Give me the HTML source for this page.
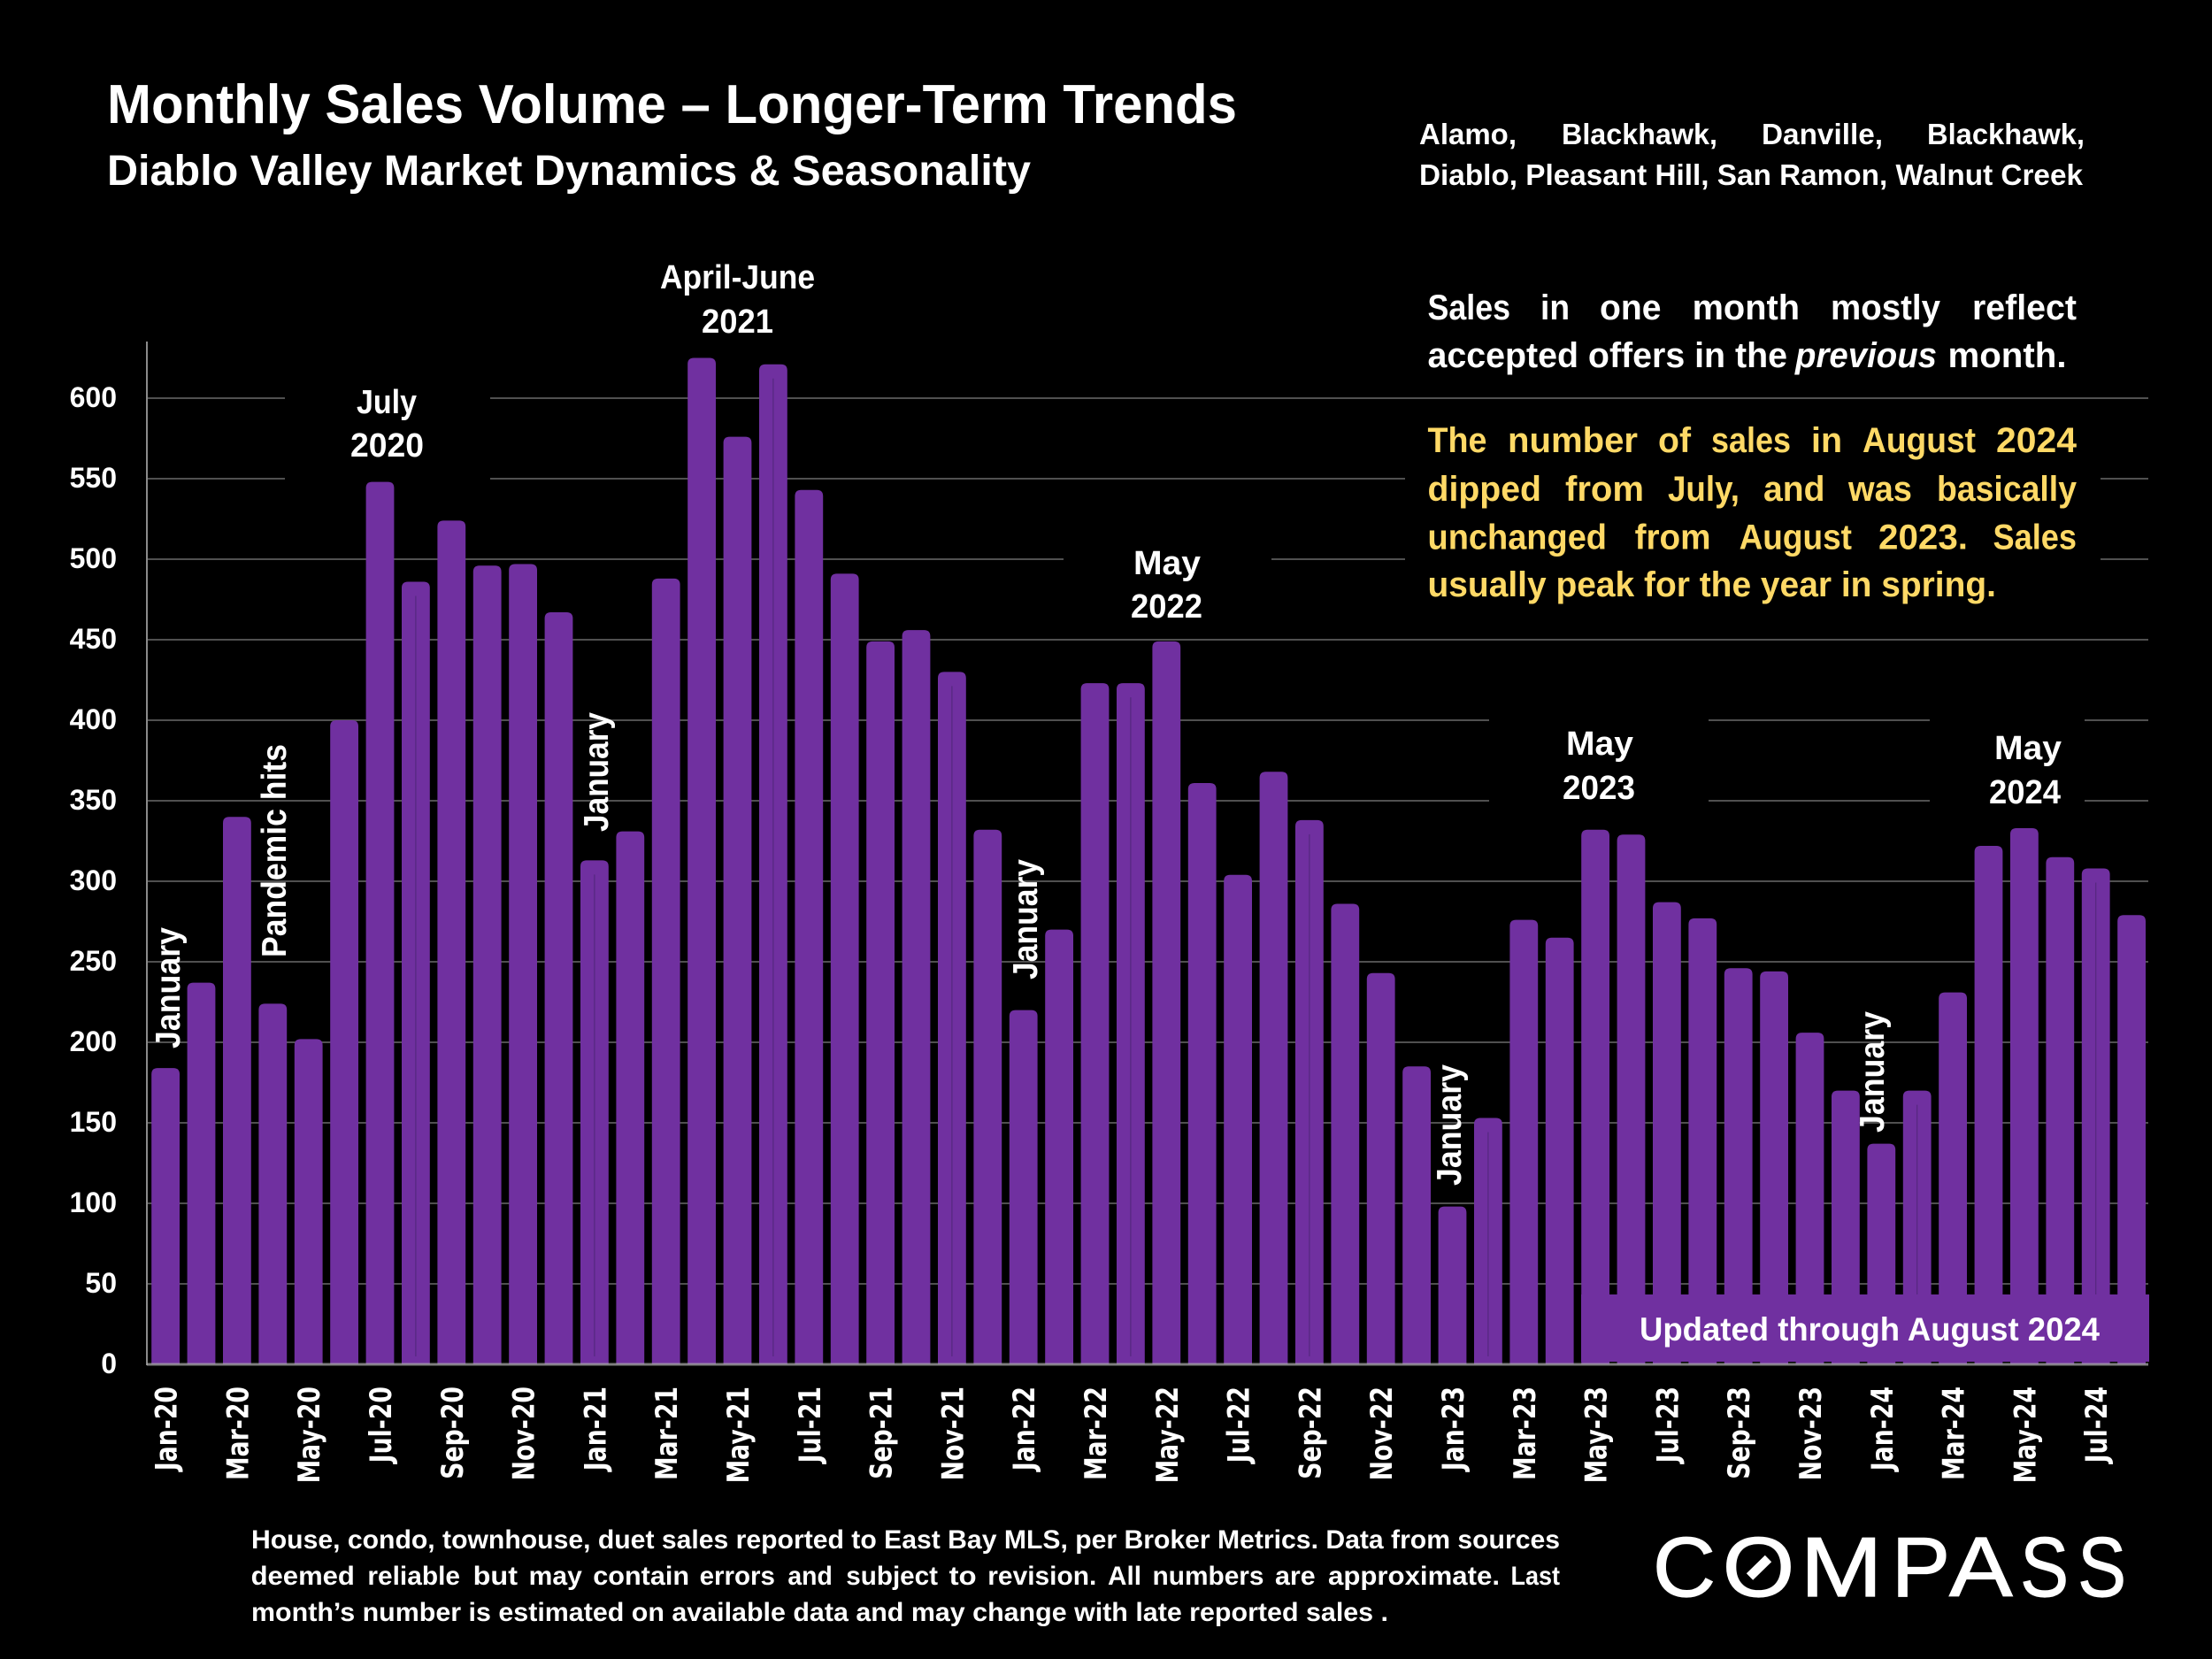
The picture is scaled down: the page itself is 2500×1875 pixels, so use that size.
<!DOCTYPE html>
<html lang="en">
<head>
<meta charset="utf-8">
<title>Monthly Sales Volume – Longer-Term Trends</title>
<style>
  html, body { margin: 0; padding: 0; background: #000; }
  svg { display: block; }
  text { font-family: "Liberation Sans", sans-serif; font-weight: 700; fill: #fff; }
  .gold { fill: #FFD966; }
  .ann { font-size: 38px; text-anchor: start; }
  .rot { font-size: 35.6px; }
  .tick-y { font-size: 32px; text-anchor: end; }
  .tick-x { font-family: "DejaVu Sans", sans-serif; font-size: 26.7px; text-anchor: end; }
  .foot { font-size: 30px; }
  .note { font-size: 40px; }
</style>
</head>
<body>
<svg id="chart" xmlns="http://www.w3.org/2000/svg" width="2500" height="1875" viewBox="0 0 2500 1875">
  <rect x="0" y="0" width="2500" height="1875" fill="#000"/>

  <text x="121" y="139" font-size="62" textLength="1277" lengthAdjust="spacingAndGlyphs">Monthly Sales Volume – Longer-Term Trends</text>
  <text x="121" y="209" font-size="48" textLength="1044" lengthAdjust="spacingAndGlyphs">Diablo Valley Market Dynamics &amp; Seasonality</text>

  <text y="163" font-size="33"><tspan x="1604" textLength="110" lengthAdjust="spacingAndGlyphs">Alamo,</tspan> <tspan x="1765" textLength="176" lengthAdjust="spacingAndGlyphs">Blackhawk,</tspan> <tspan x="1991" textLength="137" lengthAdjust="spacingAndGlyphs">Danville,</tspan> <tspan x="2178" textLength="178" lengthAdjust="spacingAndGlyphs">Blackhawk,</tspan></text>
  <text x="1604" y="209" font-size="33" textLength="750" lengthAdjust="spacingAndGlyphs">Diablo, Pleasant Hill, San Ramon, Walnut Creek</text>

  <g id="grid-layer"></g>

  <g fill="#000">
    <rect x="322" y="440" width="232" height="102"/>
    <rect x="1202" y="625" width="235" height="95"/>
    <rect x="1683" y="805" width="248" height="105"/>
    <rect x="2181" y="805" width="175" height="105"/>
    <rect x="1588" y="470" width="786" height="220"/>
  </g>

  <g id="bar-layer"></g>
  <g id="axis-layer"></g>

  <rect x="1787" y="1463" width="642" height="76" fill="#7030A0"/>
  <text x="1853" y="1515" font-size="37" textLength="520" lengthAdjust="spacingAndGlyphs">Updated through August 2024</text>

  <g>
    <text class="ann" x="403" y="467" textLength="68" lengthAdjust="spacingAndGlyphs">July</text>
    <text class="ann" x="396" y="516" textLength="83" lengthAdjust="spacingAndGlyphs">2020</text>
    <text class="ann" x="746" y="326" textLength="175" lengthAdjust="spacingAndGlyphs">April-June</text>
    <text class="ann" x="793" y="376" textLength="81" lengthAdjust="spacingAndGlyphs">2021</text>
    <text class="ann" x="1281" y="649" textLength="76" lengthAdjust="spacingAndGlyphs">May</text>
    <text class="ann" x="1278" y="698" textLength="81" lengthAdjust="spacingAndGlyphs">2022</text>
    <text class="ann" x="1770" y="853" textLength="76" lengthAdjust="spacingAndGlyphs">May</text>
    <text class="ann" x="1766" y="903" textLength="82" lengthAdjust="spacingAndGlyphs">2023</text>
    <text class="ann" x="2254" y="858" textLength="76" lengthAdjust="spacingAndGlyphs">May</text>
    <text class="ann" x="2248" y="908" textLength="81" lengthAdjust="spacingAndGlyphs">2024</text>
  </g>

  <g>
    <text class="rot" transform="translate(203 1185) rotate(-90) scale(1 1.1)" textLength="137" lengthAdjust="spacingAndGlyphs">January</text>
    <text class="rot" transform="translate(323 1082) rotate(-90) scale(1 1.1)" textLength="241" lengthAdjust="spacingAndGlyphs">Pandemic hits</text>
    <text class="rot" transform="translate(687 940) rotate(-90) scale(1 1.1)" textLength="135" lengthAdjust="spacingAndGlyphs">January</text>
    <text class="rot" transform="translate(1172 1107) rotate(-90) scale(1 1.1)" textLength="136" lengthAdjust="spacingAndGlyphs">January</text>
    <text class="rot" transform="translate(1651 1340) rotate(-90) scale(1 1.1)" textLength="137" lengthAdjust="spacingAndGlyphs">January</text>
    <text class="rot" transform="translate(2129 1280) rotate(-90) scale(1 1.1)" textLength="137" lengthAdjust="spacingAndGlyphs">January</text>
  </g>

  <g>
    <text class="note" y="361"><tspan x="1613.5" textLength="93.5" lengthAdjust="spacingAndGlyphs">Sales</tspan> <tspan x="1741" textLength="33" lengthAdjust="spacingAndGlyphs">in</tspan> <tspan x="1808" textLength="69.5" lengthAdjust="spacingAndGlyphs">one</tspan> <tspan x="1912.6" textLength="121.4" lengthAdjust="spacingAndGlyphs">month</tspan> <tspan x="2069" textLength="124" lengthAdjust="spacingAndGlyphs">mostly</tspan> <tspan x="2229" textLength="118" lengthAdjust="spacingAndGlyphs">reflect</tspan></text>
    <text class="note" y="415"><tspan x="1613.5" textLength="406.5" lengthAdjust="spacingAndGlyphs">accepted offers in the</tspan> <tspan x="2029" textLength="160" lengthAdjust="spacingAndGlyphs" font-style="italic">previous</tspan> <tspan x="2201.5" textLength="134" lengthAdjust="spacingAndGlyphs">month.</tspan></text>

    <text class="note gold" y="511"><tspan x="1613.5" textLength="67" lengthAdjust="spacingAndGlyphs">The</tspan> <tspan x="1704" textLength="147" lengthAdjust="spacingAndGlyphs">number</tspan> <tspan x="1874" textLength="37" lengthAdjust="spacingAndGlyphs">of</tspan> <tspan x="1934" textLength="90" lengthAdjust="spacingAndGlyphs">sales</tspan> <tspan x="2047" textLength="35" lengthAdjust="spacingAndGlyphs">in</tspan> <tspan x="2105" textLength="128" lengthAdjust="spacingAndGlyphs">August</tspan> <tspan x="2256" textLength="91" lengthAdjust="spacingAndGlyphs">2024</tspan></text>
    <text class="note gold" y="566"><tspan x="1613.5" textLength="128.5" lengthAdjust="spacingAndGlyphs">dipped</tspan> <tspan x="1769" textLength="89" lengthAdjust="spacingAndGlyphs">from</tspan> <tspan x="1885" textLength="81" lengthAdjust="spacingAndGlyphs">July,</tspan> <tspan x="1993" textLength="69.5" lengthAdjust="spacingAndGlyphs">and</tspan> <tspan x="2089" textLength="72" lengthAdjust="spacingAndGlyphs">was</tspan> <tspan x="2189" textLength="158" lengthAdjust="spacingAndGlyphs">basically</tspan></text>
    <text class="note gold" y="620.5"><tspan x="1613.5" textLength="202.5" lengthAdjust="spacingAndGlyphs">unchanged</tspan> <tspan x="1847.6" textLength="86" lengthAdjust="spacingAndGlyphs">from</tspan> <tspan x="1965.6" textLength="127.4" lengthAdjust="spacingAndGlyphs">August</tspan> <tspan x="2123" textLength="101" lengthAdjust="spacingAndGlyphs">2023.</tspan> <tspan x="2252.5" textLength="94.5" lengthAdjust="spacingAndGlyphs">Sales</tspan></text>
    <text class="note gold" x="1613.5" y="674" textLength="642.5" lengthAdjust="spacingAndGlyphs">usually peak for the year in spring.</text>
  </g>

  <g>
    <text class="foot" x="284" y="1750" textLength="1479" lengthAdjust="spacingAndGlyphs">House, condo, townhouse, duet sales reported to East Bay MLS, per Broker Metrics. Data from sources</text>
    <text class="foot" y="1791"><tspan x="283.6" textLength="117.3" lengthAdjust="spacingAndGlyphs">deemed</tspan> <tspan x="415.4" textLength="104.6" lengthAdjust="spacingAndGlyphs">reliable</tspan> <tspan x="534.6" textLength="50.4" lengthAdjust="spacingAndGlyphs">but</tspan> <tspan x="597.6" textLength="60.2" lengthAdjust="spacingAndGlyphs">may</tspan> <tspan x="670.3" textLength="108.7" lengthAdjust="spacingAndGlyphs">contain</tspan> <tspan x="790.6" textLength="85.3" lengthAdjust="spacingAndGlyphs">errors</tspan> <tspan x="890.4" textLength="50.4" lengthAdjust="spacingAndGlyphs">and</tspan> <tspan x="956.3" textLength="103.7" lengthAdjust="spacingAndGlyphs">subject</tspan> <tspan x="1072.6" textLength="31.1" lengthAdjust="spacingAndGlyphs">to</tspan> <tspan x="1116.3" textLength="123" lengthAdjust="spacingAndGlyphs">revision.</tspan> <tspan x="1252" textLength="38" lengthAdjust="spacingAndGlyphs">All</tspan> <tspan x="1302.5" textLength="126" lengthAdjust="spacingAndGlyphs">numbers</tspan> <tspan x="1441" textLength="45.6" lengthAdjust="spacingAndGlyphs">are</tspan> <tspan x="1501" textLength="194" lengthAdjust="spacingAndGlyphs">approximate.</tspan> <tspan x="1707.5" textLength="55.5" lengthAdjust="spacingAndGlyphs">Last</tspan></text>
    <text class="foot" x="284" y="1832" textLength="1285" lengthAdjust="spacingAndGlyphs">month’s number is estimated on available data and may change with late reported sales .</text>
  </g>

  <g>
    <text y="1804" font-size="96" stroke="#fff" stroke-width="1.2" style="font-weight:400"><tspan x="1868" textLength="71" lengthAdjust="spacingAndGlyphs">C</tspan><tspan x="1946.8" textLength="81.5" lengthAdjust="spacingAndGlyphs">O</tspan><tspan x="2034.7" textLength="93" lengthAdjust="spacingAndGlyphs">M</tspan><tspan x="2137.8" textLength="66.4" lengthAdjust="spacingAndGlyphs">P</tspan><tspan x="2203" textLength="71.6" lengthAdjust="spacingAndGlyphs">A</tspan><tspan x="2283.2" textLength="54.7" lengthAdjust="spacingAndGlyphs">S</tspan><tspan x="2348.2" textLength="54.7" lengthAdjust="spacingAndGlyphs">S</tspan></text>
    <line x1="1977.5" y1="1782" x2="1998.5" y2="1761.5" stroke="#fff" stroke-width="10.5"/>
  </g>
</svg>

<script>
const categories = [
  "Jan-20","Feb-20","Mar-20","Apr-20","May-20","Jun-20","Jul-20","Aug-20","Sep-20","Oct-20","Nov-20","Dec-20",
  "Jan-21","Feb-21","Mar-21","Apr-21","May-21","Jun-21","Jul-21","Aug-21","Sep-21","Oct-21","Nov-21","Dec-21",
  "Jan-22","Feb-22","Mar-22","Apr-22","May-22","Jun-22","Jul-22","Aug-22","Sep-22","Oct-22","Nov-22","Dec-22",
  "Jan-23","Feb-23","Mar-23","Apr-23","May-23","Jun-23","Jul-23","Aug-23","Sep-23","Oct-23","Nov-23","Dec-23",
  "Jan-24","Feb-24","Mar-24","Apr-24","May-24","Jun-24","Jul-24","Aug-24"
];
const salesValues = [
  184,237,340,224,202,400,548,486,524,496,497,467,
  313,331,488,625,576,621,543,491,449,456,430,332,
  220,270,423,423,449,361,304,368,338,286,243,185,
  98,153,276,265,332,329,287,277,246,244,206,170,
  137,170,231,322,333,315,308,279
];
const yTicks = [0,50,100,150,200,250,300,350,400,450,500,550,600];
const seamMonths = ["Aug-20","Jan-21","Jun-21","Nov-21","Apr-22","Sep-22","Feb-23","Feb-24","Jul-24"];

const NS = "http://www.w3.org/2000/svg";
const plotLeft = 166, plotRight = 2428, plotBase = 1542, axisTop = 386;
const pxPerUnit = 1.82, bandStep = 40.4, barWidth = 31.8, barRadius = 7;

function yScale(v) { return plotBase - v * pxPerUnit; }
function xBand(i) { return 171.2 + i * bandStep; }
function xCenter(i) { return xBand(i) + barWidth / 2; }

const gridLayer = document.getElementById("grid-layer");
const barLayer = document.getElementById("bar-layer");
const axisLayer = document.getElementById("axis-layer");

yTicks.forEach(function (t) {
  if (t > 0) {
    const line = document.createElementNS(NS, "line");
    line.setAttribute("x1", plotLeft);
    line.setAttribute("x2", plotRight);
    line.setAttribute("y1", yScale(t));
    line.setAttribute("y2", yScale(t));
    line.setAttribute("stroke", "#505050");
    line.setAttribute("stroke-width", "2");
    
    
    gridLayer.appendChild(line);
  }
  const label = document.createElementNS(NS, "text");
  label.setAttribute("class", "tick-y");
  label.setAttribute("x", 132);
  label.setAttribute("y", yScale(t) + 10);
  label.textContent = String(t);
  
  
  axisLayer.appendChild(label);
});

salesValues.forEach(function (v, i) {
  const x = xBand(i), y = yScale(v), r = barRadius, w = barWidth;
  const bar = document.createElementNS(NS, "path");
  bar.setAttribute("d", "M" + x + " " + plotBase + "V" + (y + r) + "Q" + x + " " + y + " " + (x + r) + " " + y +
    "H" + (x + w - r) + "Q" + (x + w) + " " + y + " " + (x + w) + " " + (y + r) + "V" + plotBase + "Z");
  bar.setAttribute("fill", "#7030A0");
  
  
  barLayer.appendChild(bar);

  if (seamMonths.indexOf(categories[i]) !== -1) {
    const seam = document.createElementNS(NS, "line");
    seam.setAttribute("x1", xCenter(i));
    seam.setAttribute("x2", xCenter(i));
    seam.setAttribute("y1", y + 16);
    seam.setAttribute("y2", plotBase - 9);
    seam.setAttribute("stroke", "#55287f");
    seam.setAttribute("stroke-width", "1.2");
    
    
    barLayer.appendChild(seam);
  }
});

categories.forEach(function (c, i) {
  if (i % 2 !== 0) return;
  const label = document.createElementNS(NS, "text");
  label.setAttribute("class", "tick-x");
  label.setAttribute("transform", "translate(" + (xCenter(i) + 12.5) + " 1567) rotate(-90) scale(1 1.25)");
  label.textContent = c;
  
  
  axisLayer.appendChild(label);
});

const yAxis = document.createElementNS(NS, "line");
yAxis.setAttribute("x1", plotLeft);
yAxis.setAttribute("x2", plotLeft);
yAxis.setAttribute("y1", axisTop);
yAxis.setAttribute("y2", plotBase + 1);
yAxis.setAttribute("stroke", "#8a8a8a");
yAxis.setAttribute("stroke-width", "2");


axisLayer.appendChild(yAxis);

const xAxis = document.createElementNS(NS, "line");
xAxis.setAttribute("x1", plotLeft);
xAxis.setAttribute("x2", plotRight);
xAxis.setAttribute("y1", plotBase);
xAxis.setAttribute("y2", plotBase);
xAxis.setAttribute("stroke", "#a8a8a8");
xAxis.setAttribute("stroke-opacity", "0.75");
xAxis.setAttribute("stroke-width", "3");


axisLayer.appendChild(xAxis);
</script>
</body>
</html>
